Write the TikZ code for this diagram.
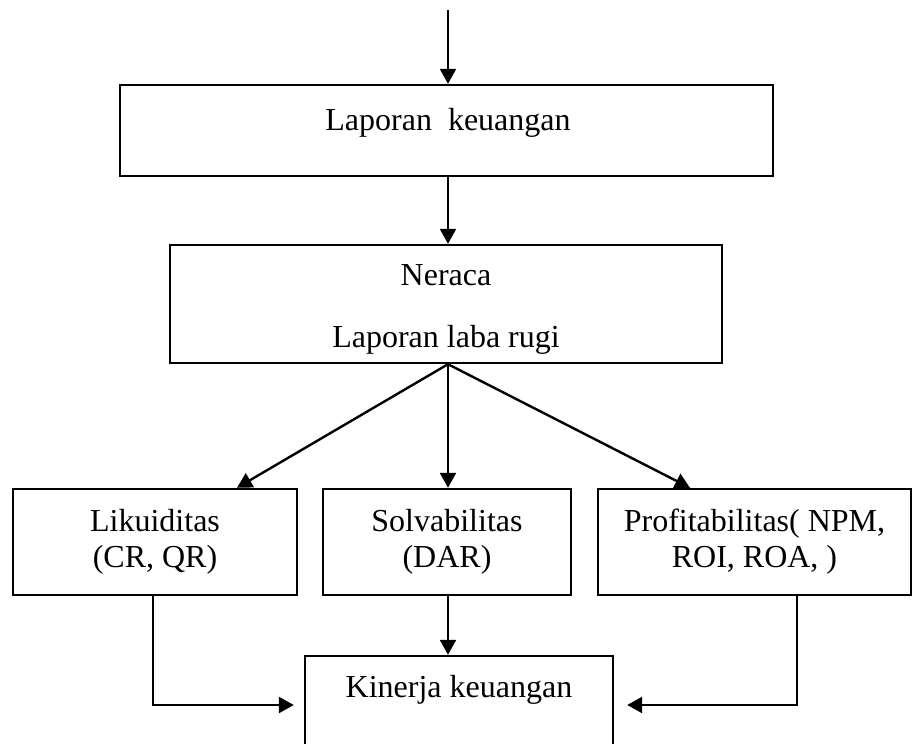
\documentclass[tikz,border=0pt]{standalone}
\usepackage{fontspec}
\setmainfont{Liberation Serif}
\usetikzlibrary{arrows.meta,calc}
\tikzset{
  boxnode/.style={draw, rectangle, inner sep=0pt, align=center,
    font=\fontsize{32}{36}\selectfont},
  txt/.style={inner sep=0pt, align=center, font=\fontsize{32}{36}\selectfont},
  conn/.style={-{Triangle[length=15pt,width=16pt]}, line width=2.4pt}
}
\begin{document}
\begin{tikzpicture}[x=1pt,y=-1pt,line width=2.4pt]
\useasboundingbox (0,0) rectangle (913,744);
\clip (0,0) rectangle (913,744);
\coordinate (in) at (448,10);
\node[boxnode, minimum width=653pt, minimum height=91pt] (b1) at (446.5,130.5) {};
\node[txt] (t1) at (448,123) {Laporan\ \ keuangan};
\node[boxnode, minimum width=552pt, minimum height=118pt] (b2) at (446,304) {};
\node[txt] (t2) at (446,309) {Neraca\\[26pt]Laporan laba rugi};
\node[boxnode, minimum width=284pt, minimum height=106pt] (bl) at (155,542) {Likuiditas\\(CR, QR)};
\node[boxnode, minimum width=248pt, minimum height=106pt] (bm) at (447,542) {Solvabilitas\\(DAR)};
\node[boxnode, minimum width=313pt, minimum height=106pt] (br) at (754.5,542) {Profitabilitas( NPM,\\ROI, ROA, )};
\node[boxnode, minimum width=308pt, minimum height=98pt] (bk) at (459,705) {};
\node[txt] (tk) at (459,690) {Kinerja keuangan};
\draw[conn] (in) -- (in |- b1.north);
\draw[conn] (in |- b1.south) -- (in |- b2.north);
\draw[conn] (in |- b2.south) -- ($(bl.north)+(82,0)$);
\draw[conn] (in |- b2.south) -- (in |- bm.north);
\draw[conn] (in |- b2.south) -- ($(br.north)+(-64.5,0)$);
\draw[conn] (in |- bm.south) -- (in |- bk.north);
\draw[conn] ($(bl.south)+(-2,0)$) |- ($(bk.west)+(-10,0)$);
\draw[conn] ($(br.south)+(42.5,0)$) |- ($(bk.east)+(13,0)$);
\end{tikzpicture}
\end{document}
